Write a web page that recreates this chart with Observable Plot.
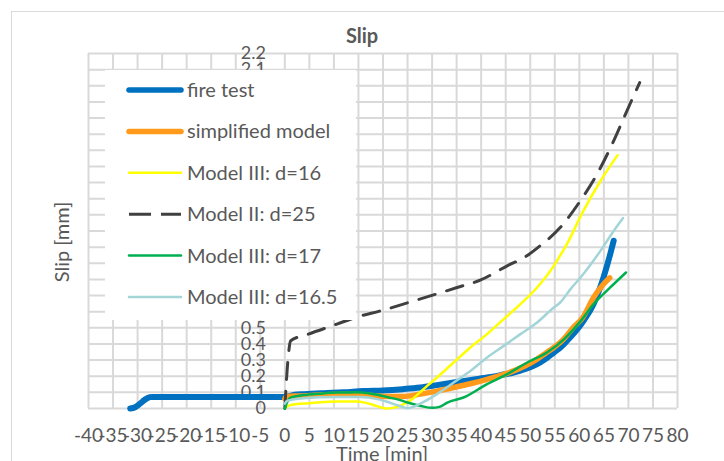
<!DOCTYPE html>
<html>
<head>
<meta charset="utf-8">
<script src="https://cdn.jsdelivr.net/npm/d3@7"></script>
<script src="https://cdn.jsdelivr.net/npm/@observablehq/plot@0.6"></script>
<style>
  html, body { margin: 0; padding: 0; background: #fff; }
  #wrap { position: relative; width: 724px; height: 461px; overflow: hidden; font-family: Lato, sans-serif; }
  #chart { position: absolute; left: 0; top: 0; }
  #overlay { position: absolute; left: 0; top: 0; pointer-events: none; }
  #border { position: absolute; left: 11px; top: 11px; width: 900px; height: 700px; border: 1.5px solid #d9d9d9; pointer-events: none; }
</style>
</head>
<body>
<div id="wrap">
  <div id="chart"></div>
  <div id="border"></div>
  <svg id="overlay" width="724" height="461"></svg>
</div>
<script>
// ---- tick values / labels ----
const xTicks = [-40,-35,-30,-25,-20,-15,-10,-5,0,5,10,15,20,25,30,35,40,45,50,55,60,65,70,75,80];
const yTicks = [0,0.1,0.2,0.3,0.4,0.5,0.6,0.7,0.8,0.9,1.0,1.1,1.2,1.3,1.4,1.5,1.6,1.7,1.8,1.9,2.0,2.1,2.2];
const yTickLabels = ["0","0.1","0.2","0.3","0.4","0.5","0.6","0.7","0.8","0.9","1","1.1","1.2","1.3","1.4","1.5","1.6","1.7","1.8","1.9","2","2.1","2.2"];

// ---- series names ----
const seriesNames = ["fire test","simplified model","Model III: d=16","Model II: d=25","Model III: d=17","Model III: d=16.5"];

// ---- fire test ----
const fireT = [-31.5,-30.5,-29.5,-28.5,-27.5,-27,-20,-10,0,2,4,8,12,16,20,24,27.6,31,34.4,38,41.2,44,46.6,49,51.4,53,54.8,56.2,57.5,58.7,59.8,61,62.9,64,64.9,66.3,67];
const fireS = [0,0.008,0.03,0.055,0.07,0.072,0.072,0.072,0.072,0.085,0.089,0.095,0.1,0.108,0.112,0.12,0.13,0.145,0.161,0.177,0.192,0.207,0.223,0.245,0.275,0.305,0.347,0.38,0.42,0.46,0.5,0.55,0.647,0.73,0.81,0.957,1.04];

// ---- simplified model ----
const simpT = [0,0.3,3,8,12,16,20,24,27.6,31,34.4,38,41.2,44,46.6,49,51.4,53,54.8,56.8,58.7,60.7,62.9,64.9,66.2];
const simpS = [0.06,0.075,0.078,0.085,0.088,0.085,0.075,0.075,0.089,0.108,0.13,0.155,0.18,0.205,0.233,0.265,0.306,0.34,0.378,0.43,0.5,0.564,0.688,0.77,0.81];

// ---- Model III: d=16 ----
const m16T = [0,0.5,1.4,4.8,8,10.6,14.5,16.5,17.9,19.5,20.6,22,23.5,25,26.2,27.6,29,31,34.4,37.8,41.2,44.6,48,51.4,54.8,56.3,57.5,60.5,64.3,67.8];
const m16S = [0,0.012,0.023,0.033,0.04,0.043,0.043,0.035,0.023,0.008,0,0.004,0.017,0.04,0.064,0.102,0.14,0.192,0.285,0.378,0.461,0.554,0.647,0.75,0.884,0.958,1.02,1.206,1.41,1.57];

// ---- Model II: d=25 ----
const m25T = [0,0.5,1.2,4.8,10.6,15,19.5,26.3,30.3,35.1,39.8,45.3,49,52,56.1,60.2,63.6,67,69.7,72.3];
const m25S = [0,0.25,0.42,0.461,0.523,0.57,0.605,0.667,0.704,0.75,0.795,0.884,0.94,1.008,1.121,1.287,1.452,1.659,1.845,2.02];

// ---- Model III: d=17 ----
const m17T = [0,0.5,1.2,3.8,7,10.6,14.5,17,18.9,21,23.5,25,27.8,30,31.5,33.1,36.4,41.2,45.3,49.4,53.4,56.9,60.3,62.9,66.3,69.5];
const m17S = [0,0.04,0.068,0.083,0.092,0.099,0.1,0.095,0.085,0.07,0.052,0.037,0.015,0.004,0.01,0.037,0.068,0.151,0.213,0.285,0.347,0.43,0.543,0.647,0.75,0.843];

// ---- Model III: d=16.5 ----
const m165T = [0,0.5,3.8,7,10.6,15.2,18.9,20.5,22.3,23.7,25,26.3,27.6,31,34.4,37.8,41.2,44.6,48,51.4,54.8,56.1,58.2,60.2,64.3,67,68.9];
const m165S = [0.03,0.048,0.064,0.07,0.072,0.072,0.058,0.045,0.027,0.012,0.002,0.012,0.03,0.089,0.161,0.233,0.316,0.388,0.461,0.533,0.626,0.657,0.74,0.81,0.977,1.1,1.18];

// ---- styles ----
const colors = ["#0070C0","#FF9A1A","#FFFF00","#404040","#00B050","#A3D5D8"];
const widths = [6,5.5,2.5,3,2.5,2.5];
const dashes = [null,null,null,"17,12",null,null];

const seriesT = [fireT, simpT, m16T, m25T, m17T, m165T];
const seriesS = [fireS, simpS, m16S, m25S, m17S, m165S];
const tables = seriesT.map((ts, k) => ts.map((t, i) => ({t, s: seriesS[k][i]})));
const yTable = yTicks.map((v, i) => ({v, label: yTickLabels[i]}));

const grid = "#d9d9d9";
const textColor = "#595959";

const lineMarks = tables.map((tab, k) => Plot.line(tab, {
  x: "t", y: "s",
  stroke: colors[k], strokeWidth: widths[k],
  strokeDasharray: dashes[k] || undefined,
  strokeLinecap: "round", strokeLinejoin: "round",
  curve: "monotone-x"
}));

const chart = Plot.plot({
  width: 724, height: 461,
  marginLeft: 88, marginRight: 47, marginTop: 53, marginBottom: 53,
  style: {fontFamily: "Lato, sans-serif", color: textColor, background: "transparent"},
  x: {domain: [-40, 80]},
  y: {domain: [0, 2.2], axis: null},
  marks: [
    Plot.gridX(xTicks, {stroke: grid, strokeOpacity: 1, strokeWidth: 2}),
    Plot.gridY(yTicks, {stroke: grid, strokeOpacity: 1, strokeWidth: 2}),
    Plot.text(yTable, {x: 0, y: "v", text: "label", dx: -19, textAnchor: "end", fontSize: 18, fill: textColor}),
    ...lineMarks,
    Plot.axisX(xTicks, {tickFormat: d => String(d), tickSize: 0, tickPadding: 20, fontSize: 19, label: null, fill: textColor})
  ]
});
document.getElementById("chart").appendChild(chart);

// ---- overlay: title, axis titles, legend ----
const ov = d3.select("#overlay");
ov.append("text").attr("x", 362).attr("y", 42.5).attr("text-anchor", "middle")
  .attr("font-family", "Lato, sans-serif").attr("font-weight", "bold").attr("font-size", 20)
  .attr("fill", textColor).text("Slip");
ov.append("text").attr("transform", "translate(69,242) rotate(-90)").attr("text-anchor", "middle")
  .attr("font-family", "Lato, sans-serif").attr("font-size", 20)
  .attr("fill", textColor).text("Slip [mm]");
ov.append("text").attr("x", 382).attr("y", 461).attr("text-anchor", "middle")
  .attr("font-family", "Lato, sans-serif").attr("font-size", 20)
  .attr("fill", textColor).text("Time [min]");

const lg = ov.append("g");
lg.append("rect").attr("x", 105).attr("y", 70).attr("width", 251).attr("height", 250).attr("fill", "#fff");
seriesNames.forEach((name, k) => {
  const cy = 90 + k * 41.4;
  lg.append("line").attr("x1", 129).attr("x2", 181).attr("y1", cy).attr("y2", cy)
    .attr("stroke", colors[k]).attr("stroke-width", Math.min(widths[k], 5.5))
    .attr("stroke-linecap", dashes[k] ? "butt" : "round")
    .attr("stroke-dasharray", dashes[k] ? "22,10" : null);
  lg.append("text").attr("x", 187).attr("y", cy + 7)
    .attr("font-family", "Lato, sans-serif").attr("font-size", 20)
    .attr("fill", textColor).text(name);
});
</script>
</body>
</html>
